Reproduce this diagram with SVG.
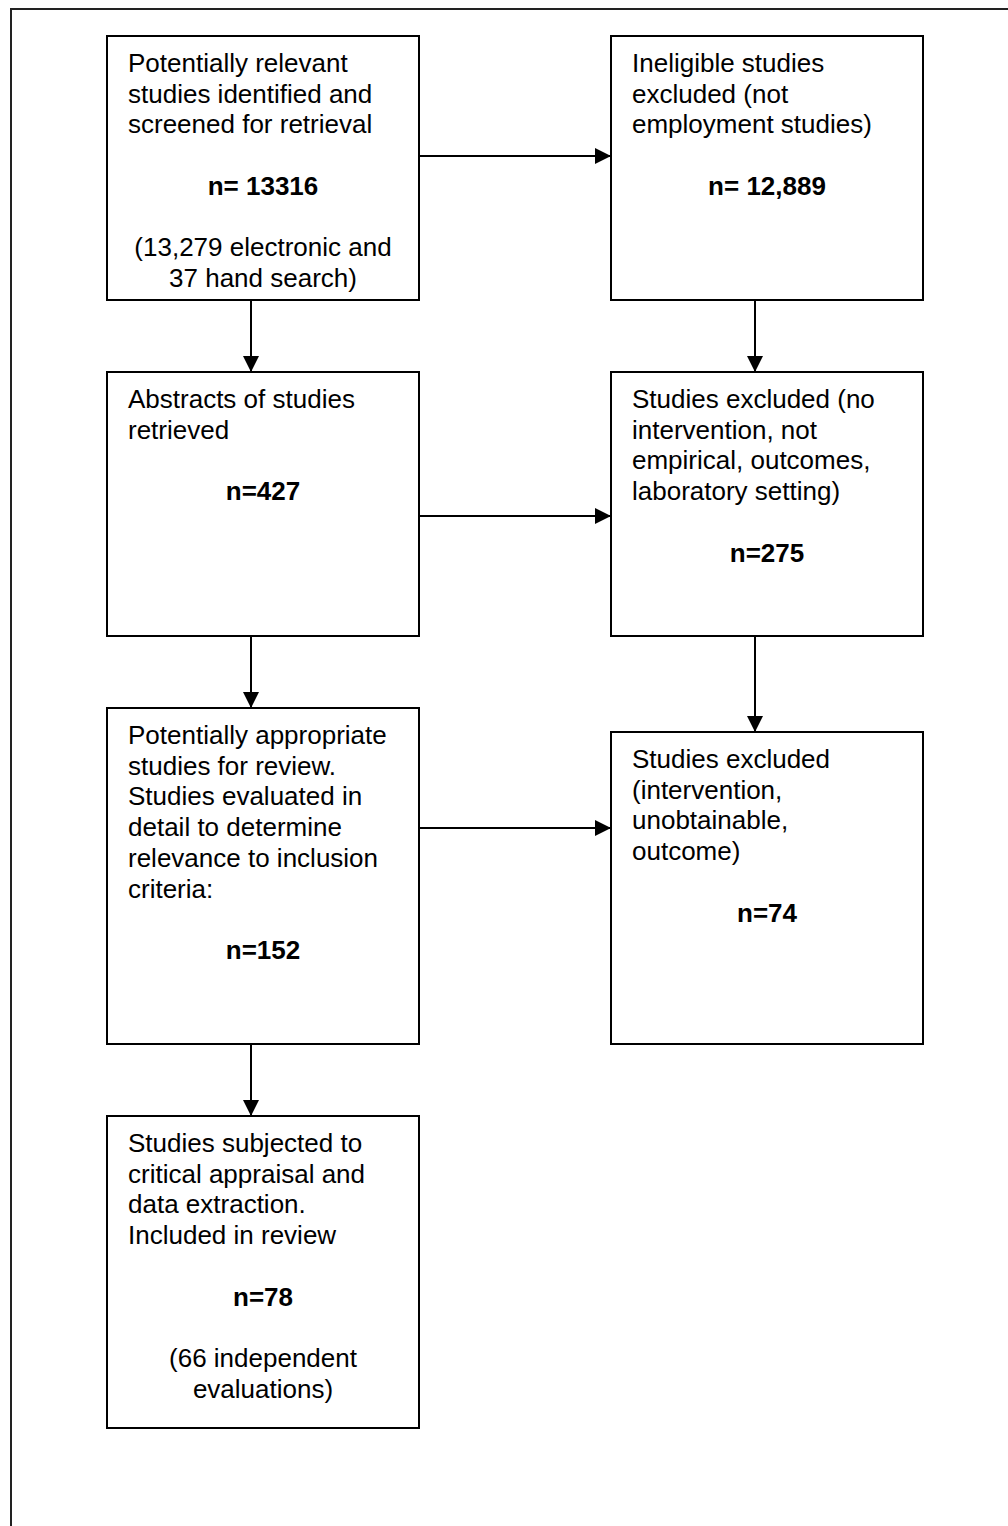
<svg xmlns="http://www.w3.org/2000/svg" width="1008" height="1526" viewBox="0 0 1008 1526">
<style>
.box{fill:#fff;stroke:#000;stroke-width:2}
.t{font-family:"Liberation Sans",Arial,sans-serif;font-size:26px;fill:#000}
.c{text-anchor:middle}
.b{font-weight:bold}
.edge{stroke:#000;stroke-width:2;fill:none}
</style>
<defs>
<marker id="ah" markerUnits="userSpaceOnUse" markerWidth="16" markerHeight="16" refX="16" refY="8" orient="auto">
<path d="M0,0 L16,8 L0,16 Z" fill="#000"/>
</marker>
</defs>
<rect width="1008" height="1526" fill="#fff"/>
<path d="M11,1526 V9 H1008" fill="none" stroke="#222" stroke-width="2"/>
<g id="connectors">
<line class="edge" x1="419" y1="156" x2="611" y2="156" marker-end="url(#ah)"/>
<line class="edge" x1="251" y1="300" x2="251" y2="372" marker-end="url(#ah)"/>
<line class="edge" x1="755" y1="300" x2="755" y2="372" marker-end="url(#ah)"/>
<line class="edge" x1="419" y1="516" x2="611" y2="516" marker-end="url(#ah)"/>
<line class="edge" x1="251" y1="636" x2="251" y2="708" marker-end="url(#ah)"/>
<line class="edge" x1="755" y1="636" x2="755" y2="732" marker-end="url(#ah)"/>
<line class="edge" x1="419" y1="828" x2="611" y2="828" marker-end="url(#ah)"/>
<line class="edge" x1="251" y1="1044" x2="251" y2="1116" marker-end="url(#ah)"/>
</g>
<g id="n1">
<rect class="box" x="107" y="36" width="312" height="264"/>
<text class="t" x="128" y="72">Potentially relevant</text>
<text class="t" x="128" y="102.7">studies identified and</text>
<text class="t" x="128" y="133.4">screened for retrieval</text>
<text class="t c b" x="263" y="194.8">n= 13316</text>
<text class="t c" x="263" y="256.2">(13,279 electronic and</text>
<text class="t c" x="263" y="286.9">37 hand search)</text>
</g>
<g id="n2">
<rect class="box" x="611" y="36" width="312" height="264"/>
<text class="t" x="632" y="72">Ineligible studies</text>
<text class="t" x="632" y="102.7">excluded (not</text>
<text class="t" x="632" y="133.4">employment studies)</text>
<text class="t c b" x="767" y="194.8">n= 12,889</text>
</g>
<g id="n3">
<rect class="box" x="107" y="372" width="312" height="264"/>
<text class="t" x="128" y="408">Abstracts of studies</text>
<text class="t" x="128" y="438.7">retrieved</text>
<text class="t c b" x="263" y="500.1">n=427</text>
</g>
<g id="n4">
<rect class="box" x="611" y="372" width="312" height="264"/>
<text class="t" x="632" y="408">Studies excluded (no</text>
<text class="t" x="632" y="438.7">intervention, not</text>
<text class="t" x="632" y="469.4">empirical, outcomes,</text>
<text class="t" x="632" y="500.1">laboratory setting)</text>
<text class="t c b" x="767" y="561.5">n=275</text>
</g>
<g id="n5">
<rect class="box" x="107" y="708" width="312" height="336"/>
<text class="t" x="128" y="744">Potentially appropriate</text>
<text class="t" x="128" y="774.7">studies for review.</text>
<text class="t" x="128" y="805.4">Studies evaluated in</text>
<text class="t" x="128" y="836.1">detail to determine</text>
<text class="t" x="128" y="866.8">relevance to inclusion</text>
<text class="t" x="128" y="897.5">criteria:</text>
<text class="t c b" x="263" y="958.9">n=152</text>
</g>
<g id="n6">
<rect class="box" x="611" y="732" width="312" height="312"/>
<text class="t" x="632" y="768">Studies excluded</text>
<text class="t" x="632" y="798.7">(intervention,</text>
<text class="t" x="632" y="829.4">unobtainable,</text>
<text class="t" x="632" y="860.1">outcome)</text>
<text class="t c b" x="767" y="921.5">n=74</text>
</g>
<g id="n7">
<rect class="box" x="107" y="1116" width="312" height="312"/>
<text class="t" x="128" y="1152">Studies subjected to</text>
<text class="t" x="128" y="1182.7">critical appraisal and</text>
<text class="t" x="128" y="1213.4">data extraction.</text>
<text class="t" x="128" y="1244.1">Included in review</text>
<text class="t c b" x="263" y="1305.5">n=78</text>
<text class="t c" x="263" y="1366.9">(66 independent</text>
<text class="t c" x="263" y="1397.6">evaluations)</text>
</g>
</svg>
